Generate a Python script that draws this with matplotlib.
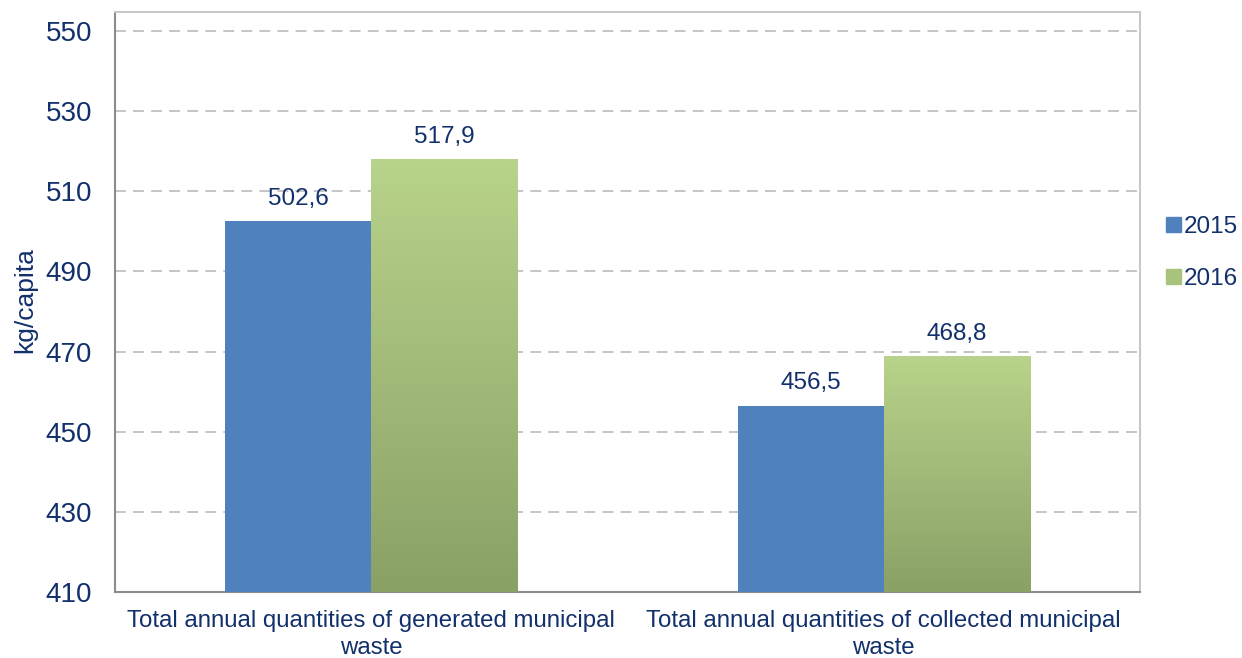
import numpy as np
import matplotlib.pyplot as plt
from matplotlib.patches import Patch
from matplotlib.colors import LinearSegmentedColormap

plt.rcParams['font.family'] = ['Liberation Sans', 'DejaVu Sans']

categories = ['Total annual quantities of generated municipal\nwaste',
              'Total annual quantities of collected municipal\nwaste']
years = ['2015', '2016']
vals_2015 = [502.6, 456.5]
vals_2016 = [517.9, 468.8]
yticks = [410, 430, 450, 470, 490, 510, 530, 550]

navy = '#12306b'
blue = '#4f81bd'
green_top = '#b8d38b'
green_bot = '#8aa166'

fig = plt.figure(figsize=(12.42, 6.58), dpi=100)
ax = fig.add_axes([115/1242, 1 - 592/658, 1025/1242, 580/658])

x = np.arange(len(categories))
w = 0.285
ymin, ymax = 410, 554.7

ax.bar(x - w/2, vals_2015, w, bottom=0, color=blue, zorder=3)
cmap = LinearSegmentedColormap.from_list('g', [green_bot, green_top])
grad = np.linspace(0, 1, 256).reshape(-1, 1)
for xi, v in zip(x, vals_2016):
    ax.imshow(grad, cmap=cmap, aspect='auto', origin='lower',
              extent=(xi, xi + w, ymin, v), zorder=3)

for xi, v in zip(x, vals_2015):
    ax.text(xi - w/2, v + 2.8, f'{v:.1f}'.replace('.', ','), ha='center', va='bottom',
            fontsize=17.5, color=navy)
for xi, v in zip(x, vals_2016):
    ax.text(xi + w/2, v + 2.8, f'{v:.1f}'.replace('.', ','), ha='center', va='bottom',
            fontsize=17.5, color=navy)

ax.set_xlim(-0.5, 1.5)
ax.set_ylim(ymin, ymax)
ax.set_yticks(yticks)
ax.set_xticks(x)
ax.set_xticklabels(categories, fontsize=17.3, color=navy, linespacing=1.3)
ax.tick_params(axis='y', labelsize=20, labelcolor=navy, length=0, pad=16.5)
ax.tick_params(axis='x', length=0, pad=13)
ax.yaxis.grid(True, linestyle=(0, (6, 4)), color='#c0c0c0', linewidth=1.3, zorder=0)
ax.set_axisbelow(True)

for s in ['top', 'right']:
    ax.spines[s].set_color('#c8c8c8')
for s in ['left', 'bottom']:
    ax.spines[s].set_color('#8c8c8c')
for s in ax.spines.values():
    s.set_linewidth(1.5)

ax.set_ylabel('kg/capita', fontsize=19, color=navy)
ax.yaxis.set_label_coords(-0.076, 0.503)

handles = [Patch(color=blue), Patch(color='#a8c47c')]
fig.legend(handles, years, loc='center left', bbox_to_anchor=(1166/1242, 1 - 253/658),
           frameon=False, fontsize=17.5, labelcolor=navy, handlelength=0.6, handleheight=0.6,
           handletextpad=0.15, labelspacing=1.25, borderpad=0, borderaxespad=0)

fig.savefig('out.png', dpi=100)
